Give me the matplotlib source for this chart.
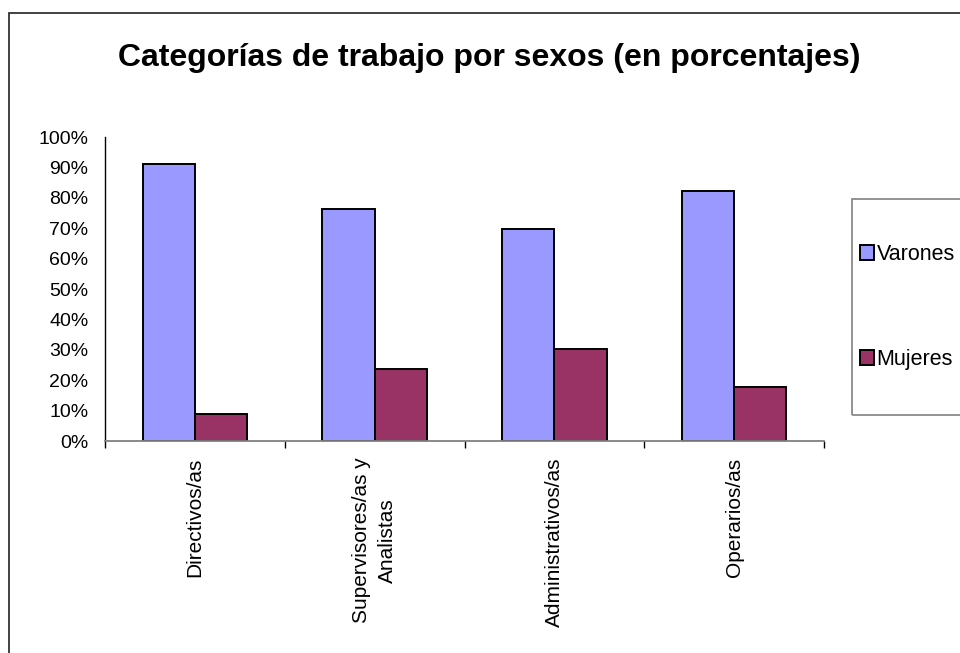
import numpy as np
import matplotlib
matplotlib.use("Agg")
import matplotlib.pyplot as plt
from matplotlib.patches import Rectangle, Patch

plt.rcParams['font.family'] = ['Liberation Sans', 'DejaVu Sans']

# Data
categorias = ['Directivos/as', 'Supervisores/as y\nAnalistas', 'Administrativos/as', 'Operarios/as']
varones = [91.0, 76.4, 69.8, 82.3]
mujeres = [9.0, 23.6, 30.2, 17.7]
series_labels = ['Varones', 'Mujeres']
yticks = [0, 10, 20, 30, 40, 50, 60, 70, 80, 90, 100]

col_v = '#9999FF'
col_m = '#993366'

fig = plt.figure(figsize=(9.6, 6.53), dpi=100)
ax = fig.add_axes([105 / 960, 1 - 441 / 653, 719 / 960, 304 / 653])

x = np.arange(len(categorias))
w = 0.29
ax.bar(x - w / 2, varones, w, color=col_v, edgecolor='black', linewidth=1.4)
ax.bar(x + w / 2, mujeres, w, color=col_m, edgecolor='black', linewidth=1.4)

ax.set_xlim(-0.5, len(categorias) - 0.5)
ax.set_ylim(0, 100)
ax.set_yticks(yticks)
ax.set_yticklabels([f'{v}%' for v in yticks], fontsize=14)
ax.tick_params(axis='y', length=0, pad=12)

# boundary ticks on the category axis, labels in the middle
ax.set_xticks(np.arange(-0.5, len(categorias), 1.0))
ax.set_xticklabels([])
ax.tick_params(axis='x', which='major', length=5, width=1, color='black', direction='out')
ax.set_xticks(x, minor=True)
ax.set_xticklabels(categorias, minor=True, rotation=90, fontsize=15, ha='center', va='top',
                   linespacing=1.5)
ax.tick_params(axis='x', which='minor', length=0, pad=12)

for s in ['top', 'right']:
    ax.spines[s].set_visible(False)
ax.spines['left'].set_color('black')
ax.spines['left'].set_linewidth(1)
ax.spines['bottom'].set_color('#808080')
ax.spines['bottom'].set_linewidth(1.3)

fig.text(0.51, 1 - 58 / 653, 'Categorías de trabajo por sexos (en porcentajes)',
         ha='center', va='center', fontsize=23, fontweight='bold')

# legend frame (runs off the right edge like the original)
fig.patches.append(Rectangle((852 / 960, 1 - 415 / 653), 0.2, 216 / 653,
                             transform=fig.transFigure, facecolor='none',
                             edgecolor='#808080', linewidth=1.2))
handles = [Patch(facecolor=col_v, edgecolor='black', linewidth=1.4),
           Patch(facecolor=col_m, edgecolor='black', linewidth=1.4)]
fig.legend(handles, series_labels, loc='upper left',
           bbox_to_anchor=(860 / 960, 1 - 244 / 653), frameon=False,
           fontsize=15.5, labelspacing=3.9, borderpad=0, borderaxespad=0,
           handlelength=0.65, handleheight=0.65, handletextpad=0.12)

# outer chart border
fig.patches.append(Rectangle((9 / 960, -0.1), 1.2, 1.1 - 13 / 653,
                             transform=fig.transFigure, facecolor='none',
                             edgecolor='#333333', linewidth=1.3))

fig.savefig('out.png', dpi=100)
